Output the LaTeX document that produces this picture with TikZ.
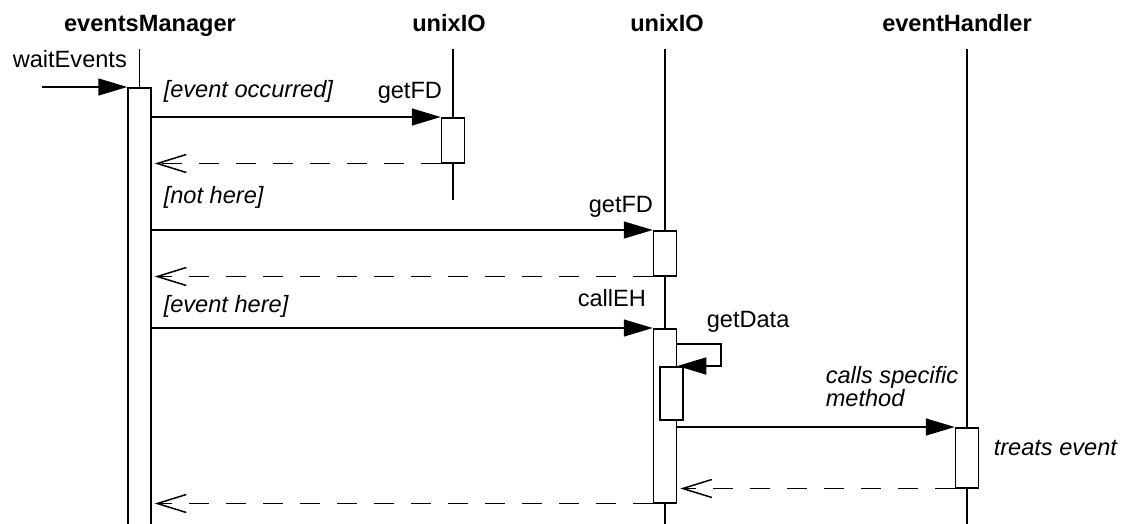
\documentclass[tikz,border=0pt]{standalone}
\usepackage{fontspec}
\setmainfont{Liberation Sans}
\usetikzlibrary{arrows.meta}
\begin{document}
\begin{tikzpicture}[x=1pt,y=-1pt,line width=1.5pt,
  txt/.style={font=\fontsize{23.6}{27}\selectfont,inner sep=0pt},
  head/.style={txt,font=\fontsize{23.6}{27}\selectfont\bfseries,anchor=base},
  lbl/.style={txt,anchor=base west},
  guard/.style={txt,font=\fontsize{23.6}{27}\selectfont\itshape,anchor=base west},
  act/.style={draw,fill=white,minimum width=23pt,inner sep=0pt,anchor=north},
  call/.style={-{Triangle[length=29pt,width=17pt]}},
  ret/.style={dash pattern=on 20pt off 17pt,shorten >=3pt,
    -{Straight Barb[length=29pt,width=18pt]}}]
\clip (0,0) rectangle (1127,523);

% object headers
\node[head] (hem) at (150,31) {eventsManager};
\node[head] (hu1) at (449,31) {unixIO};
\node[head] (hu2) at (667,31) {unixIO};
\node[head] (heh) at (957,31) {eventHandler};

% lifelines
\coordinate (lem) at (139.5,49);
\coordinate (lu1) at (453,49);
\coordinate (lu2) at (665,49);
\coordinate (leh) at (967,49);
\draw (lem) -- (lem |- 0,530);
\draw (lu1) -- (lu1 |- 0,200);
\draw (lu2) -- (lu2 |- 0,530);
\draw (leh) -- (leh |- 0,530);

% activation bars
\node[act,minimum height=450pt] (em) at (139.5,87) {};
\node[act,minimum height=45pt] (u1a) at (453,117) {};
\node[act,minimum height=45pt] (u2a) at (665,230) {};
\node[act,minimum height=174pt] (u2b) at (665,328) {};
\node[act,minimum height=53pt] (u2c) at (671.5,366) {};
\node[act,minimum height=60pt] (eha) at (967,427) {};

% incoming call
\coordinate (wstart) at (42,87);
\draw[call] (wstart) -- (em.north west);
\node[lbl] (wlbl) at (12,67) {waitEvents};

% first getFD
\draw[call] (em.east |- u1a.north) -- (u1a.north west);
\draw[ret] (u1a.south west) -- (em.east |- u1a.south);
\node[guard] (g1) at (163,97) {[event occurred]};
\node[lbl] (m1) at (377,98) {getFD};

% second getFD
\node[guard] (g2) at (163,203) {[not here]};
\node[lbl] (m2) at (588,212) {getFD};
\draw[call] (em.east |- u2a.north) -- (u2a.north west);
\draw[ret] (u2a.south west) -- (em.east |- u2a.south);

% callEH
\node[guard] (g3) at (163,312) {[event here]};
\node[lbl] (m3) at (577,306) {callEH};
\draw[call] (em.east |- u2b.north) -- (u2b.north west);

% getData self call
\node[lbl] (m4) at (706,327) {getData};
\coordinate (sc1) at (721,344);
\coordinate (sc2) at (721,366);
\draw[call] (u2b.east |- sc1) -- (sc1) -- (sc2) -- (u2b.east |- sc2);

% specific method on the handler
\node[guard] (m5a) at (825,383) {calls specific};
\node[guard] (m5b) at (825,406) {method};
\draw[call] (u2b.east |- eha.north) -- (eha.north west);
\node[guard] (n1) at (993,455) {treats event};
\draw[ret] (eha.south west) -- (u2b.east |- eha.south);

% final return
\draw[ret] (u2b.south west) -- (em.east |- u2b.south);
\end{tikzpicture}
\end{document}
